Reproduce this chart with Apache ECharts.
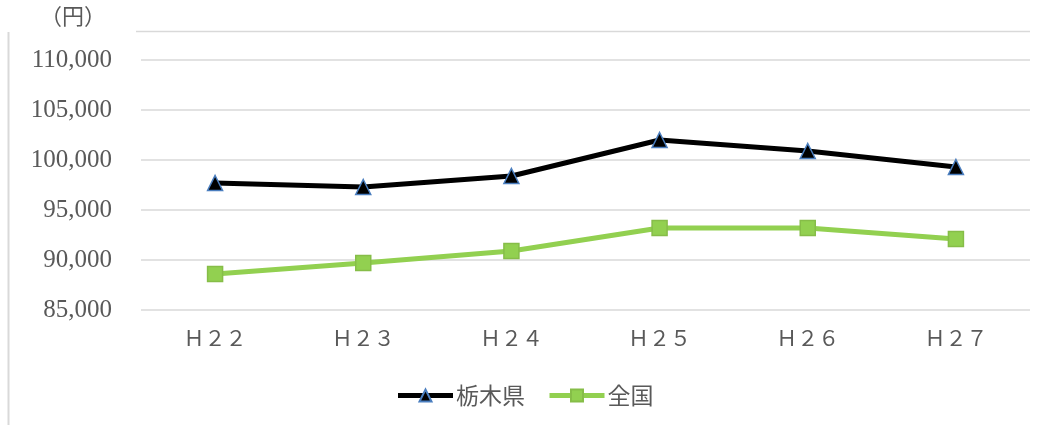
<!DOCTYPE html>
<html>
<head>
<meta charset="utf-8">
<script src="https://cdn.jsdelivr.net/npm/echarts@6/dist/echarts.min.js"></script>
<style>html,body{margin:0;padding:0;background:#fff;}#c{width:1049px;height:428px;}</style>
</head>
<body>
<div id="c"></div>
<script>
const categories = ['Ｈ２２', 'Ｈ２３', 'Ｈ２４', 'Ｈ２５', 'Ｈ２６', 'Ｈ２７'];
const tochigi = [97700, 97300, 98400, 102000, 100900, 99300];
const zenkoku = [88600, 89700, 90900, 93200, 93200, 92100];
const yMin = 85000, yMax = 110000, yStep = 5000;
const unitLabel = '（円）';

const chart = echarts.init(document.getElementById('c'));
const serif = '"Liberation Serif", "DejaVu Serif", "Noto Sans CJK JP", serif';
chart.setOption({
  animation: false,
  grid: { left: 141, right: 19, top: 60, bottom: 118 },
  graphic: [
    { type: 'line', shape: { x1: 136, y1: 31.5, x2: 1030, y2: 31.5 }, style: { stroke: '#d9d9d9', lineWidth: 1.5 } },
    { type: 'line', shape: { x1: 8.5, y1: 32, x2: 8.5, y2: 425 }, style: { stroke: '#d9d9d9', lineWidth: 2 } },
    { type: 'text', left: 40, top: 7, style: { text: unitLabel, font: '22px ' + serif, fill: '#595959' } }
  ],
  xAxis: {
    type: 'category',
    data: categories,
    boundaryGap: true,
    axisLine: { show: false },
    axisTick: { show: false },
    axisLabel: { color: '#595959', fontSize: 21, fontFamily: serif, margin: 20 }
  },
  yAxis: {
    type: 'value',
    min: yMin, max: yMax, interval: yStep,
    axisLine: { show: false },
    axisTick: { show: false },
    splitLine: { lineStyle: { color: '#d9d9d9', width: 1.5 } },
    axisLabel: {
      color: '#595959', fontSize: 25, fontFamily: serif, margin: 29,
      formatter: v => v.toLocaleString('en-US')
    }
  },
  legend: {
    bottom: 16, left: 'center',
    itemWidth: 55, itemHeight: 15, itemGap: 22,
    lineStyle: { width: 5 },
    textStyle: { color: '#595959', fontSize: 23, fontFamily: '"Noto Sans CJK JP", sans-serif', padding: [0, 0, 0, -2] },
    data: ['栃木県', '全国']
  },
  series: [
    {
      name: '栃木県', type: 'line', data: tochigi,
      symbol: 'triangle', symbolSize: 15,
      lineStyle: { color: '#000000', width: 5 },
      itemStyle: { color: '#000000', borderColor: '#4a7ebf', borderWidth: 1.5 }
    },
    {
      name: '全国', type: 'line', data: zenkoku,
      symbol: 'rect', symbolSize: 15,
      lineStyle: { color: '#92d050', width: 5 },
      itemStyle: { color: '#92d050', borderColor: '#86bd48', borderWidth: 1.5 }
    }
  ]
});
</script>
</body>
</html>
